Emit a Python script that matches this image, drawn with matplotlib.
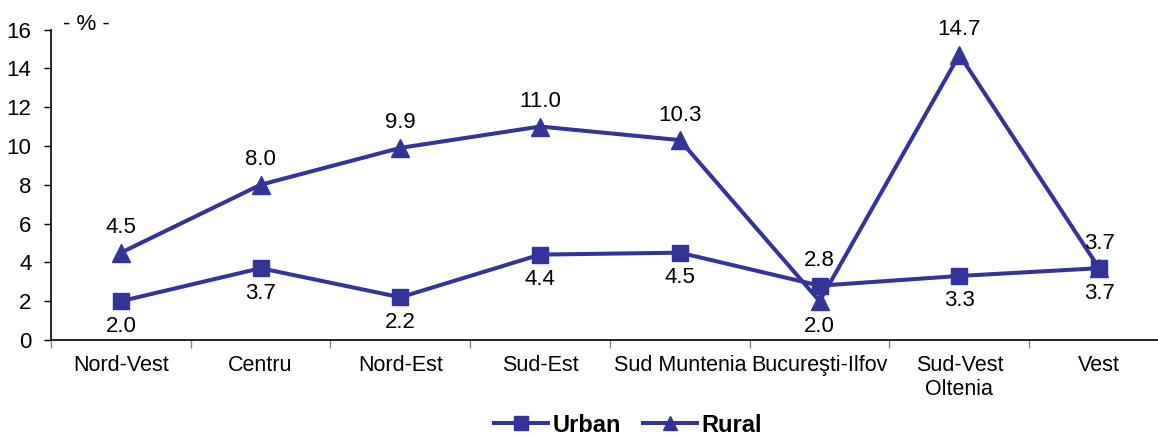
import matplotlib
matplotlib.use("Agg")
import matplotlib.pyplot as plt
import numpy as np

categories = ["Nord-Vest", "Centru", "Nord-Est", "Sud-Est", "Sud Muntenia",
              "Bucureşti-Ilfov", "Sud-Vest\nOltenia", "Vest"]
urban = [2.0, 3.7, 2.2, 4.4, 4.5, 2.8, 3.3, 3.7]
rural = [4.5, 8.0, 9.9, 11.0, 10.3, 2.0, 14.7, 3.7]
urban_above = [False, False, False, False, False, True, False, False]
rural_above = [True, True, True, True, True, False, True, True]
yticks = [0, 2, 4, 6, 8, 10, 12, 14, 16]

plt.rcParams['font.family'] = ['Liberation Sans', 'DejaVu Sans']
color = "#333399"
fs = 16

fig = plt.figure(figsize=(11.58, 4.37), dpi=100)
ax = fig.add_axes([51/1158, 1-340/437, (1169-51)/1158, (340-29.5)/437])
x = np.arange(len(categories))
ax.plot(x, urban, color=color, lw=2.9, marker="s", ms=12, label="Urban", clip_on=False, zorder=3)
ax.plot(x, rural, color=color, lw=2.9, marker="^", ms=12.5, label="Rural", clip_on=False, zorder=3)

off = 18
for xi, v, up in zip(x, urban, urban_above):
    ax.annotate(f"{v:.1f}", (xi, v), xytext=(0, off if up else -off), textcoords="offset points",
                ha="center", va="center", fontsize=fs)
for xi, v, up in zip(x, rural, rural_above):
    ax.annotate(f"{v:.1f}", (xi, v), xytext=(0, off if up else -off), textcoords="offset points",
                ha="center", va="center", fontsize=fs)

ax.set_xlim(-0.5, len(categories) - 0.5)
ax.set_ylim(0, 16)
ax.set_yticks(yticks)
ax.set_yticklabels([str(t) for t in yticks], fontsize=fs)
ax.set_xticks(x)
ax.set_xticklabels(categories, fontsize=15.5, linespacing=1.15)
ax.set_xticks(np.arange(len(categories) + 1) - 0.5, minor=True)
ax.tick_params(axis="x", which="major", length=0, pad=11)
ax.tick_params(axis="x", which="minor", length=6, color="#888888", width=1)
ax.tick_params(axis="y", which="major", length=5, width=1, pad=9)
for s in ["top", "right"]:
    ax.spines[s].set_visible(False)
ax.spines["left"].set_linewidth(1.2)
ax.spines["bottom"].set_linewidth(1.2)

fig.text(63/1158, 1-25/437, "- % -", fontsize=fs, ha="left", va="center")

fig.legend(loc="center", bbox_to_anchor=(628/1158, 1-425/437), ncol=2, frameon=False,
           prop={"weight": "bold", "size": 17}, handlelength=2.3, columnspacing=0.9,
           handletextpad=0.2, markerscale=0.85, borderpad=0.2)

fig.savefig("out.png", dpi=100)
